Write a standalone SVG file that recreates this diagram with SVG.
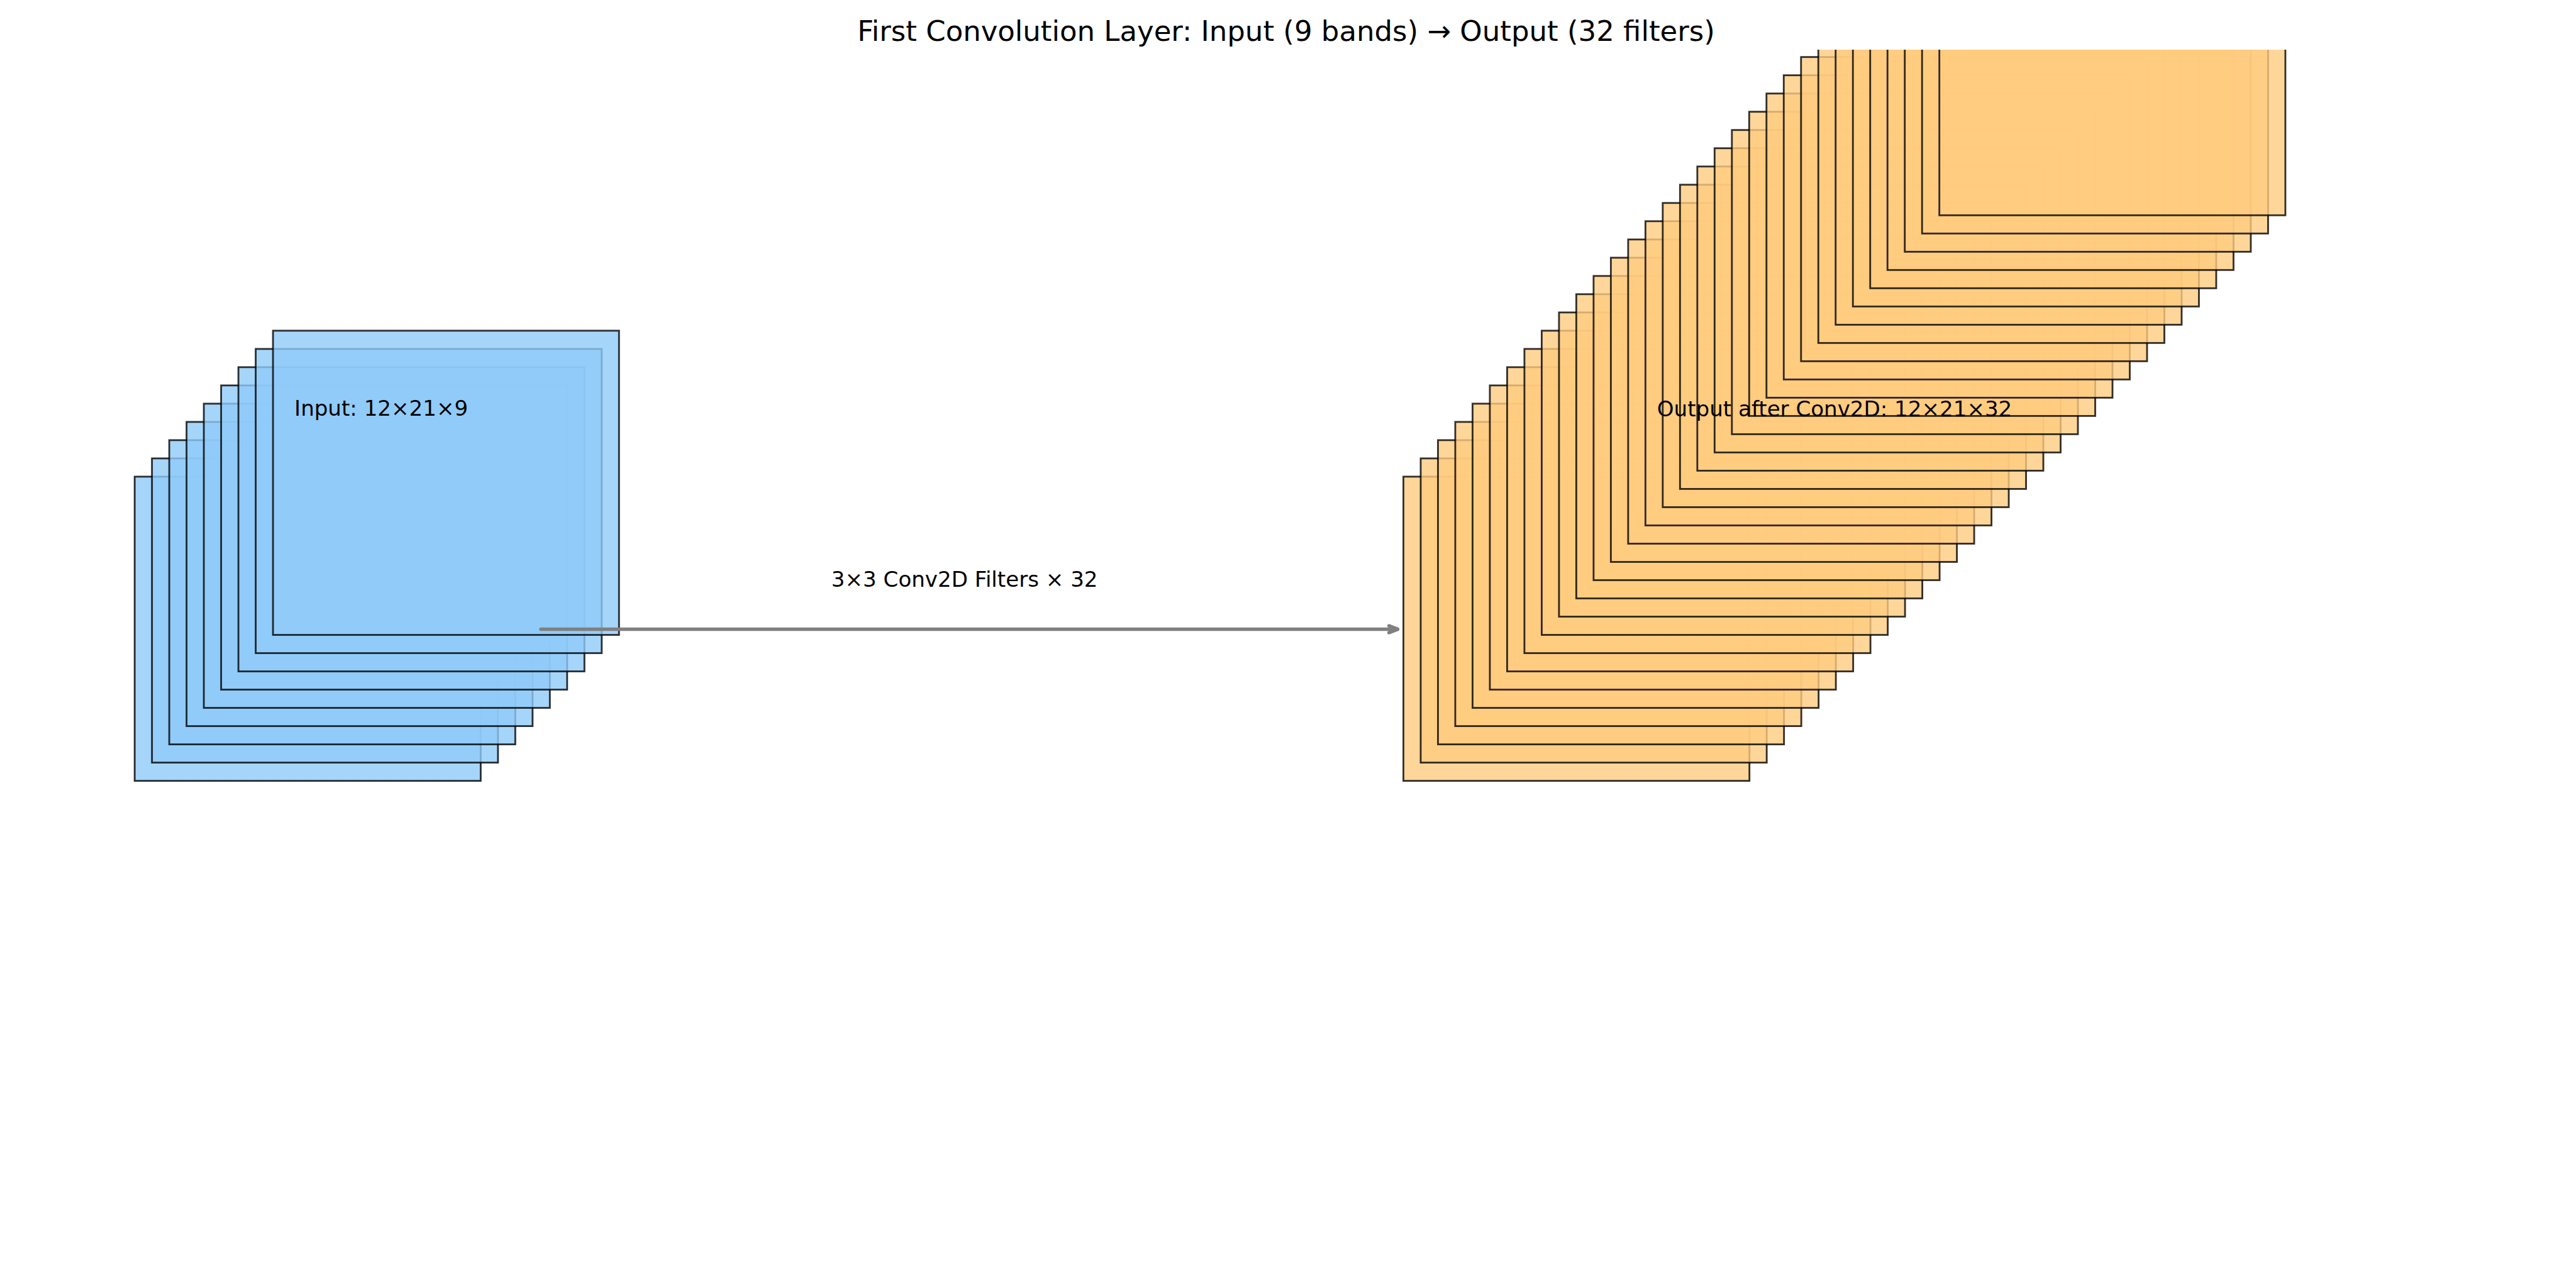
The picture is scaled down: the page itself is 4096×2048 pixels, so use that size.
<svg xmlns="http://www.w3.org/2000/svg" width="4096" height="2048" viewBox="0 0 4096 2048">
<style>
.in{fill:#90CAF9;fill-opacity:0.8;stroke:#000;stroke-opacity:0.8;stroke-width:2.84}
.out{fill:#FFCC80;fill-opacity:0.8;stroke:#000;stroke-opacity:0.8;stroke-width:2.84}
.lbl{font-family:"DejaVu Sans","Liberation Sans",sans-serif;fill:#000}
.conn{stroke:#808080;stroke-width:5.7;fill:none;stroke-linecap:round}
</style>
<defs>
<clipPath id="ax"><rect x="0" y="79" width="4096" height="1969"/></clipPath>
<marker id="head" markerUnits="userSpaceOnUse" viewBox="0 0 24 24" markerWidth="24" markerHeight="24" refX="18" refY="12" orient="auto" overflow="visible">
<path d="M4.5,6.6 L18,12 L4.5,17.4" fill="none" stroke="#808080" stroke-width="5.7" stroke-linecap="round" stroke-linejoin="round"/>
</marker>
</defs>
<rect width="4096" height="2048" fill="#fff"/>
<g id="input-stack">
<rect class="in" x="214.15" y="757.90" width="550.2" height="483.7"/>
<rect class="in" x="241.64" y="728.89" width="550.2" height="483.7"/>
<rect class="in" x="269.13" y="699.88" width="550.2" height="483.7"/>
<rect class="in" x="296.62" y="670.87" width="550.2" height="483.7"/>
<rect class="in" x="324.11" y="641.86" width="550.2" height="483.7"/>
<rect class="in" x="351.60" y="612.85" width="550.2" height="483.7"/>
<rect class="in" x="379.09" y="583.84" width="550.2" height="483.7"/>
<rect class="in" x="406.58" y="554.83" width="550.2" height="483.7"/>
<rect class="in" x="434.07" y="525.82" width="550.2" height="483.7"/>
<text class="lbl" x="468.1" y="660.8" font-size="34.1">Input: 12×21×9</text>
</g>
<g id="output-stack" clip-path="url(#ax)">
<rect class="out" x="2231.50" y="757.90" width="550.2" height="483.7"/>
<rect class="out" x="2258.99" y="728.89" width="550.2" height="483.7"/>
<rect class="out" x="2286.48" y="699.88" width="550.2" height="483.7"/>
<rect class="out" x="2313.97" y="670.87" width="550.2" height="483.7"/>
<rect class="out" x="2341.46" y="641.86" width="550.2" height="483.7"/>
<rect class="out" x="2368.95" y="612.85" width="550.2" height="483.7"/>
<rect class="out" x="2396.44" y="583.84" width="550.2" height="483.7"/>
<rect class="out" x="2423.93" y="554.83" width="550.2" height="483.7"/>
<rect class="out" x="2451.42" y="525.82" width="550.2" height="483.7"/>
<rect class="out" x="2478.91" y="496.81" width="550.2" height="483.7"/>
<rect class="out" x="2506.40" y="467.80" width="550.2" height="483.7"/>
<rect class="out" x="2533.89" y="438.79" width="550.2" height="483.7"/>
<rect class="out" x="2561.38" y="409.78" width="550.2" height="483.7"/>
<rect class="out" x="2588.87" y="380.77" width="550.2" height="483.7"/>
<rect class="out" x="2616.36" y="351.76" width="550.2" height="483.7"/>
<rect class="out" x="2643.85" y="322.75" width="550.2" height="483.7"/>
<rect class="out" x="2671.34" y="293.74" width="550.2" height="483.7"/>
<rect class="out" x="2698.83" y="264.73" width="550.2" height="483.7"/>
<rect class="out" x="2726.32" y="235.72" width="550.2" height="483.7"/>
<rect class="out" x="2753.81" y="206.71" width="550.2" height="483.7"/>
<rect class="out" x="2781.30" y="177.70" width="550.2" height="483.7"/>
<rect class="out" x="2808.79" y="148.69" width="550.2" height="483.7"/>
<rect class="out" x="2836.28" y="119.68" width="550.2" height="483.7"/>
<rect class="out" x="2863.77" y="90.67" width="550.2" height="483.7"/>
<rect class="out" x="2891.26" y="61.66" width="550.2" height="483.7"/>
<rect class="out" x="2918.75" y="32.65" width="550.2" height="483.7"/>
<rect class="out" x="2946.24" y="3.64" width="550.2" height="483.7"/>
<rect class="out" x="2973.73" y="-25.37" width="550.2" height="483.7"/>
<rect class="out" x="3001.22" y="-54.38" width="550.2" height="483.7"/>
<rect class="out" x="3028.71" y="-83.39" width="550.2" height="483.7"/>
<rect class="out" x="3056.20" y="-112.40" width="550.2" height="483.7"/>
<rect class="out" x="3083.69" y="-141.41" width="550.2" height="483.7"/>
</g>
<g id="output-label">
<text class="lbl" x="2634.8" y="661.5" font-size="34.1">Output after Conv2D: 12×21×32</text>
</g>
<g id="connectors">
<path class="conn" d="M860.2,1000.5 L2222.2,1000.5" marker-end="url(#head)"/>
<text class="lbl" x="1533.7" y="932.5" font-size="34.1" text-anchor="middle">3×3 Conv2D Filters × 32</text>
</g>
<text id="title" class="lbl" x="2045" y="64.5" font-size="45" text-anchor="middle">First Convolution Layer: Input (9 bands) → Output (32 filters)</text>
</svg>
